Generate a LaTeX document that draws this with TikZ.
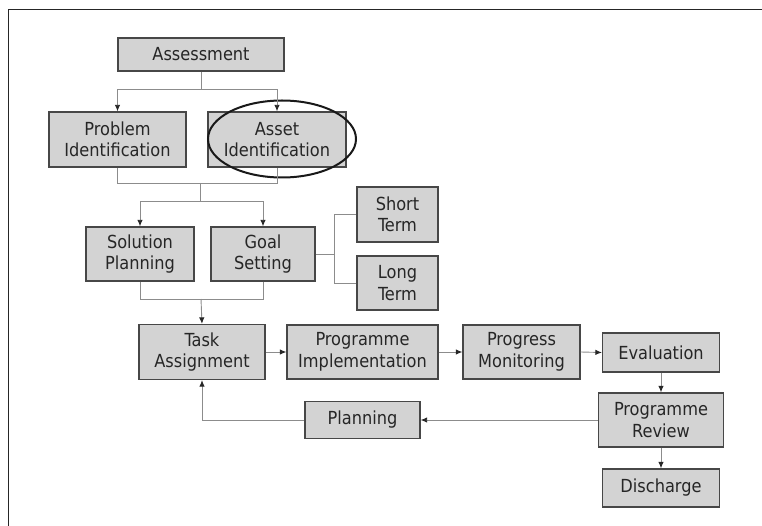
\documentclass[tikz,border=0pt]{standalone}
\usepackage{fontspec}
\setsansfont{DejaVu Sans Condensed}
\usetikzlibrary{arrows.meta,shapes.geometric}
\definecolor{BoxFill}{HTML}{D3D3D3}
\definecolor{BoxEdge}{HTML}{474747}
\definecolor{LinkGray}{HTML}{8C8C8C}
\definecolor{TextGray}{HTML}{262626}
\tikzset{
  stage/.style={draw=BoxEdge,fill=BoxFill,line width=1.3pt,align=center,inner sep=0pt,text=TextGray},
  link/.style={LinkGray,line width=.9pt},
}

\begin{document}
\begin{tikzpicture}[x=1pt,y=-1pt,font=\sffamily\fontsize{18}{21.5}\selectfont,>={Latex[length=6.5pt,width=5.5pt,color=black!85]}]
\useasboundingbox (0,0) rectangle (762,526);
\draw[line width=1.6pt,black!85] (8.5,526)--(8.5,9.5)--(762,9.5);
% assessment and identification
\node[stage,minimum width=166pt,minimum height=33pt] (assess) at (201,54.5) {Assessment};
\node[stage,minimum width=137pt,minimum height=55pt] (probl) at (117.5,139.5) {Problem\\Identification};
\node[stage,minimum width=138pt,minimum height=55pt] (asset) at (277,139.5) {Asset\\Identification};
\node[ellipse,draw=black!90,line width=2pt,minimum width=148pt,minimum height=77pt] (ring) at (282,139) {};
% planning and goals
\node[stage,minimum width=108pt,minimum height=54pt] (solut) at (140,254) {Solution\\Planning};
\node[stage,minimum width=104pt,minimum height=54pt] (goal) at (263,254) {Goal\\Setting};
\node[stage,minimum width=81pt,minimum height=55pt] (short) at (397.5,214.5) {Short\\Term};
\node[stage,minimum width=81pt,minimum height=54pt] (long) at (397.5,283) {Long\\Term};
% programme row
\node[stage,minimum width=126pt,minimum height=55pt] (task) at (202,352) {Task\\Assignment};
\node[stage,minimum width=151pt,minimum height=54pt] (impl) at (362.5,352) {Programme\\Implementation};
\node[stage,minimum width=117pt,minimum height=54pt] (monit) at (521.5,352) {Progress\\Monitoring};
\node[stage,minimum width=117pt,minimum height=39pt] (evalu) at (661,352.5) {Evaluation};
\node[stage,minimum width=125pt,minimum height=54pt] (review) at (661,420) {Programme\\Review};
\node[stage,minimum width=115pt,minimum height=37pt] (plan) at (362.5,420) {Planning};
\node[stage,minimum width=117pt,minimum height=38pt] (disch) at (661,488) {Discharge};
% connectors
\coordinate (fork1) at (201,89);
\coordinate (join1) at (200,183);
\coordinate (fork2) at (200,201);
\coordinate (join2) at (201,299);
\coordinate (fork3) at (334,254);
\draw[link] (assess.south)--(fork1);
\draw[link,->] (fork1)-|(probl.north);
\draw[link,->] (fork1)-|(asset.north);
\draw[link] (probl.south)|-(join1);
\draw[link] (asset.south)|-(join1);
\draw[link] (join1)--(fork2);
\draw[link,->] (fork2)-|(solut.north);
\draw[link,->] (fork2)-|(goal.north);
\draw[link] (goal.east)--(fork3);
\draw[link] (fork3)|-(short.west);
\draw[link] (fork3)|-(long.west);
\draw[link] (solut.south)|-(join2);
\draw[link] (goal.south)|-(join2);
\draw[link,->] (join2)--(task.north);
\foreach \a/\b in {task/impl,impl/monit,monit/evalu}{\draw[link,->] (\a.east)--(\b.west);}
\draw[link,->] (evalu.south)--(review.north);
\draw[link,->] (review.south)--(disch.north);
\draw[link,->] (review.west)--(plan.east);
\draw[link,->] (plan.west)-|(task.south);
\end{tikzpicture}
\end{document}
